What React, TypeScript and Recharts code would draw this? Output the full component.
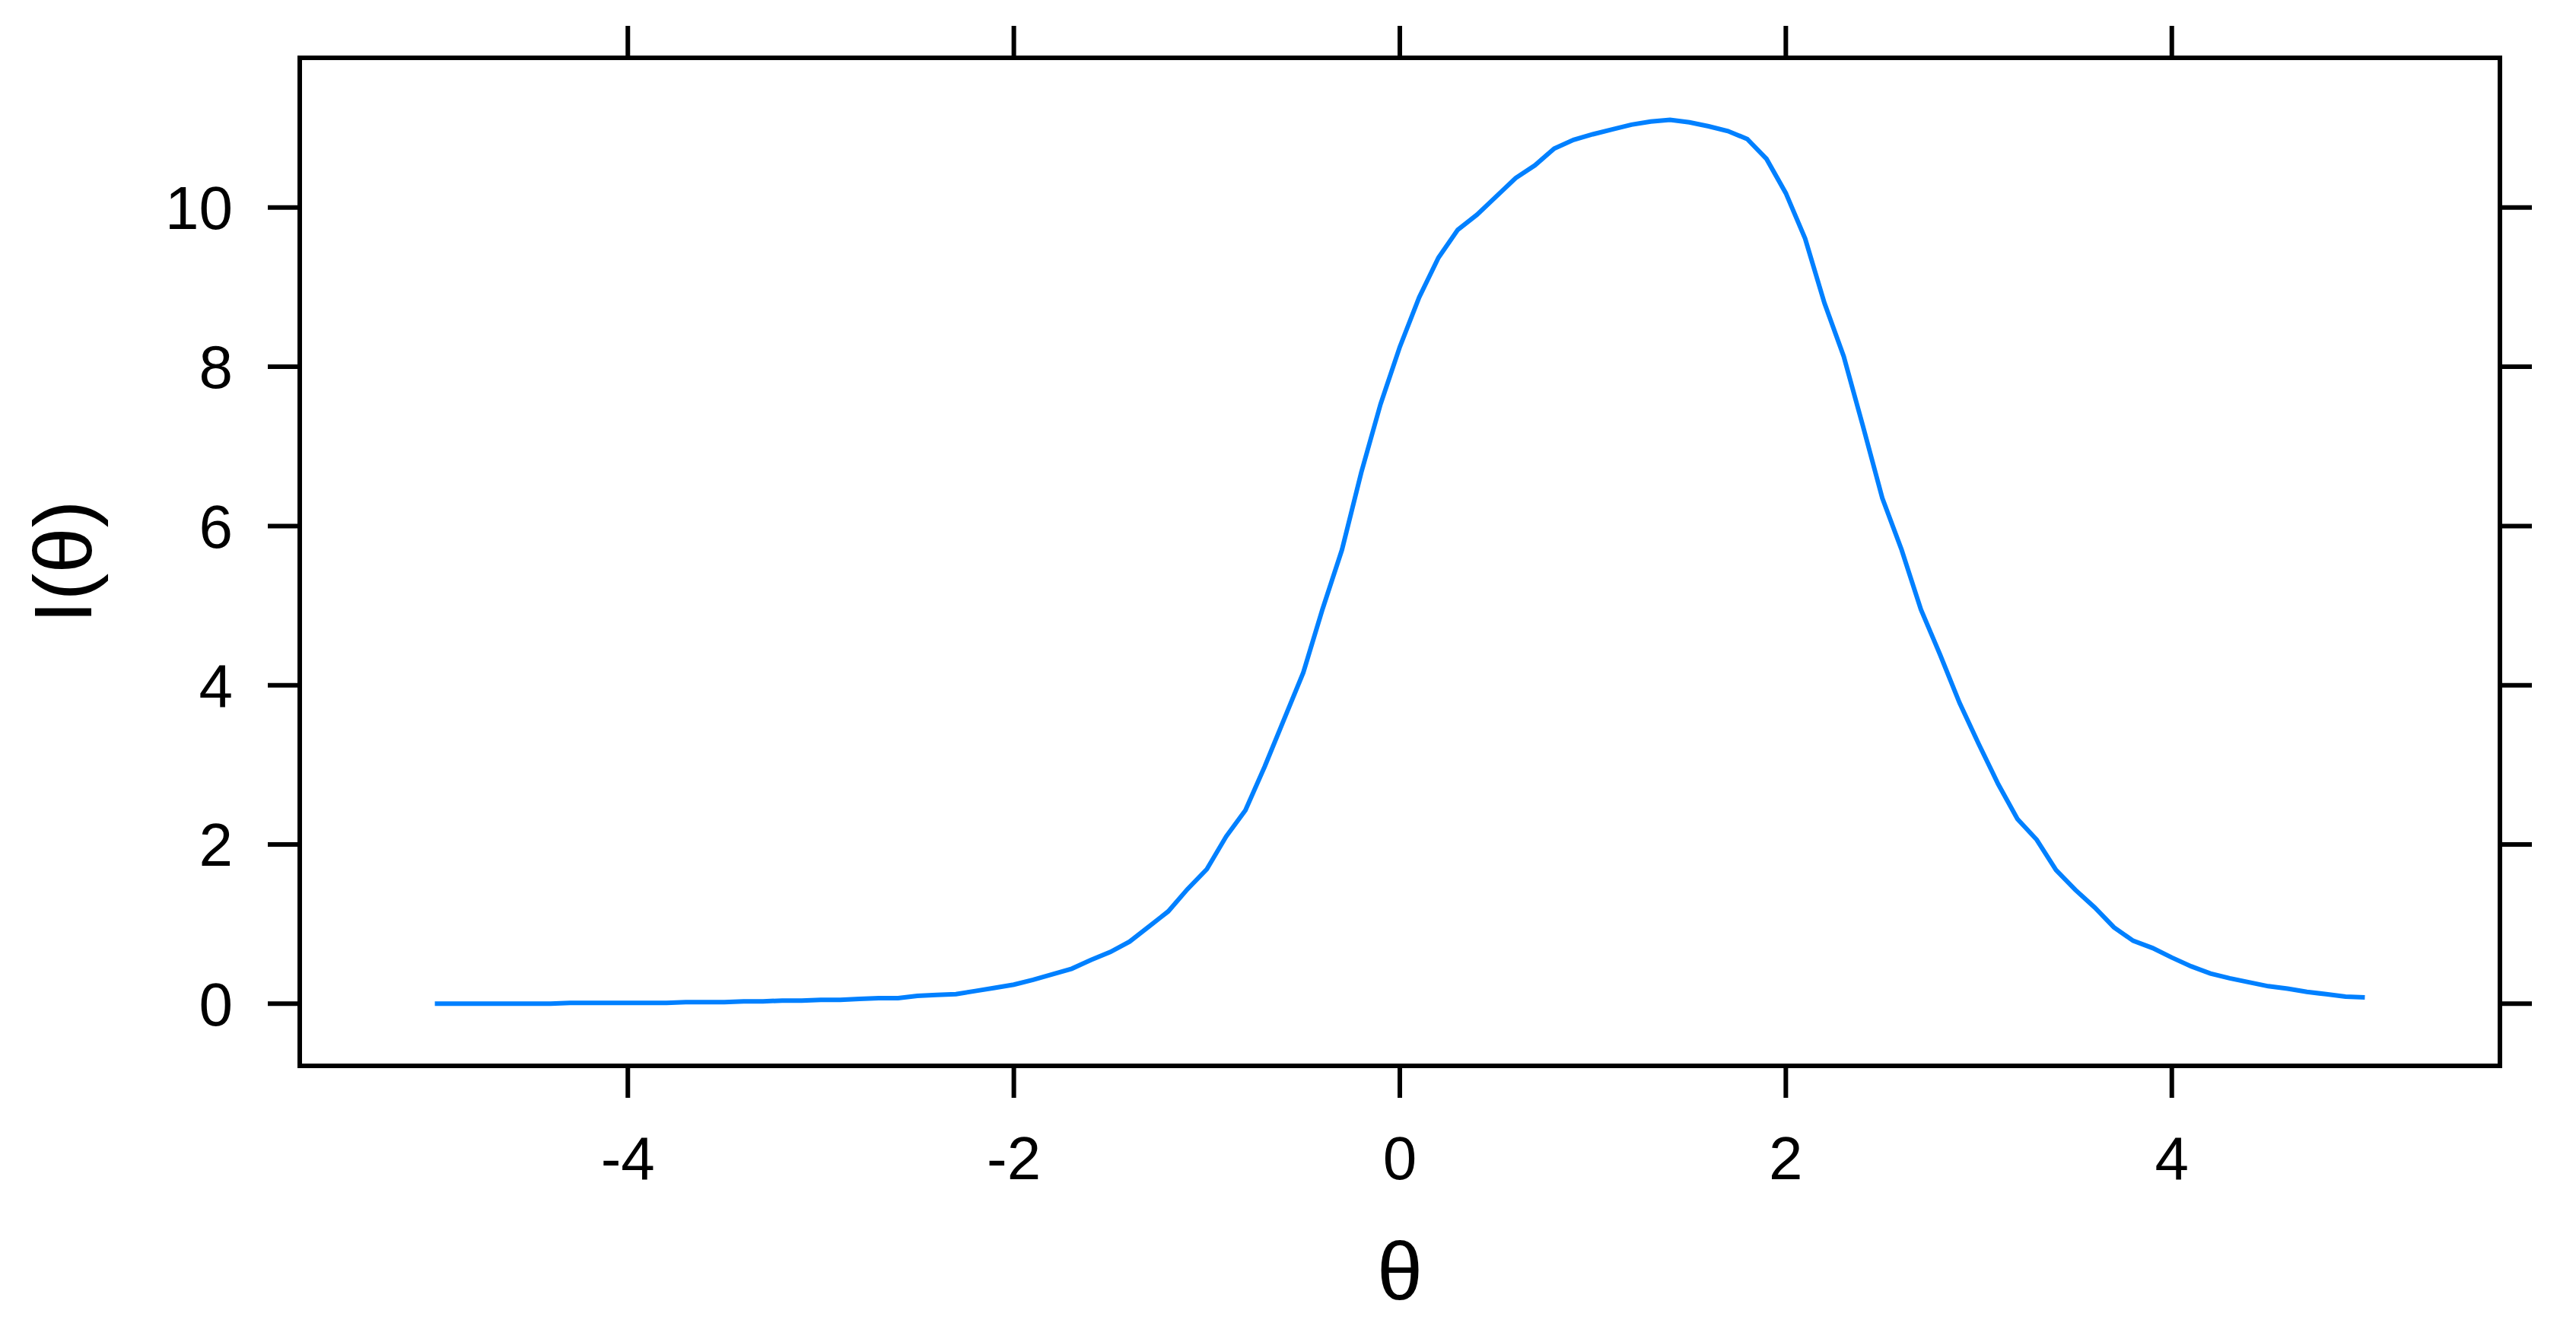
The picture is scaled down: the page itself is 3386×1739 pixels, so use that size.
import { LineChart, Line, XAxis, YAxis, Label } from 'recharts';

// test information curve I(theta) at steps of 0.1
const theta = [
  -5, -4.9, -4.8, -4.7, -4.6, -4.5, -4.4, -4.3, -4.2, -4.1,
  -4, -3.9, -3.8, -3.7, -3.6, -3.5, -3.4, -3.3, -3.2, -3.1,
  -3, -2.9, -2.8, -2.7, -2.6, -2.5, -2.4, -2.3, -2.2, -2.1,
  -2, -1.9, -1.8, -1.7, -1.6, -1.5, -1.4, -1.3, -1.2, -1.1,
  -1, -0.9, -0.8, -0.7, -0.6, -0.5, -0.4, -0.3, -0.2, -0.1,
  0, 0.1, 0.2, 0.3, 0.4, 0.5, 0.6, 0.7, 0.8, 0.9,
  1, 1.1, 1.2, 1.3, 1.4, 1.5, 1.6, 1.7, 1.8, 1.9,
  2, 2.1, 2.2, 2.3, 2.4, 2.5, 2.6, 2.7, 2.8, 2.9,
  3, 3.1, 3.2, 3.3, 3.4, 3.5, 3.6, 3.7, 3.8, 3.9,
  4, 4.1, 4.2, 4.3, 4.4, 4.5, 4.6, 4.7, 4.8, 4.9,
  5,
];

const information = [
  0.0, 0.0, 0.0, 0.0, 0.0, 0.0, 0.0, 0.01, 0.01, 0.01,
  0.01, 0.01, 0.01, 0.02, 0.02, 0.02, 0.03, 0.03, 0.04, 0.04,
  0.05, 0.05, 0.06, 0.07, 0.07, 0.1, 0.11, 0.12, 0.16, 0.2,
  0.24, 0.3, 0.37, 0.44, 0.55, 0.65, 0.78, 0.97, 1.16, 1.44,
  1.69, 2.1, 2.43, 2.98, 3.57, 4.16, 4.96, 5.7, 6.67, 7.53,
  8.25, 8.87, 9.37, 9.72, 9.91, 10.14, 10.37, 10.53, 10.74, 10.85,
  10.92, 10.98, 11.04, 11.08, 11.1, 11.07, 11.02, 10.96, 10.86, 10.61,
  10.18, 9.61, 8.8, 8.13, 7.25, 6.35, 5.7, 4.95, 4.38, 3.78,
  3.26, 2.76, 2.32, 2.06, 1.68, 1.43, 1.21, 0.96, 0.79, 0.7,
  0.58, 0.47, 0.38, 0.32, 0.27, 0.22, 0.19, 0.15, 0.12, 0.09,
  0.08,
];

const xTicks = [-4, -2, 0, 2, 4];
const yTicks = [0, 2, 4, 6, 8, 10];

const FONT = '"Liberation Sans", Arial, sans-serif';
const BORDER = { stroke: '#000', strokeWidth: 6, strokeLinecap: 'square' as const };
const TICK_LINE = { stroke: '#000', strokeWidth: 6 };
const TICK_TEXT = { fill: '#000', fontSize: 80, fontFamily: FONT };
const noText = () => '';

const data = theta.map((t, i) => ({ theta: t, info: information[i] }));

function XTitle(props: any) {
  const { x, y, width } = props.viewBox;
  return (
    <text x={x + width / 2} y={y + 307} textAnchor="middle" fontSize={108} fontFamily={FONT} fill="#000">
      θ
    </text>
  );
}

function YTitle(props: any) {
  const { x, y, height } = props.viewBox;
  const cx = x + 120;
  const cy = y + height / 2;
  return (
    <text x={cx} y={cy} textAnchor="middle" fontSize={108} fontFamily={FONT} fill="#000" transform={`rotate(-90 ${cx} ${cy})`}>
      I(θ)
    </text>
  );
}

export default function App() {
  return (
    <div style={{ position: 'absolute', left: 0, top: 0, width: 3386, height: 1739, background: '#fff' }}>
      <LineChart width={3386} height={1739} data={data} margin={{ top: 0, right: 0, bottom: 0, left: 0 }}>
        <XAxis
          xAxisId="bottom"
          dataKey="theta"
          type="number"
          domain={[-5.7, 5.7]}
          ticks={xTicks}
          allowDataOverflow
          height={338}
          tickSize={42}
          tickMargin={50}
          axisLine={BORDER}
          tickLine={TICK_LINE}
          tick={TICK_TEXT}
        >
          <Label content={XTitle} />
        </XAxis>
        <XAxis
          xAxisId="top"
          orientation="top"
          dataKey="theta"
          type="number"
          domain={[-5.7, 5.7]}
          ticks={xTicks}
          allowDataOverflow
          height={76}
          tickSize={42}
          axisLine={BORDER}
          tickLine={TICK_LINE}
          tickFormatter={noText}
        />
        <YAxis
          yAxisId="left"
          type="number"
          domain={[-0.78, 11.88]}
          ticks={yTicks}
          allowDataOverflow
          width={394}
          tickSize={42}
          tickMargin={46}
          axisLine={BORDER}
          tickLine={TICK_LINE}
          tick={TICK_TEXT}
        >
          <Label content={YTitle} />
        </YAxis>
        <YAxis
          yAxisId="right"
          orientation="right"
          type="number"
          domain={[-0.78, 11.88]}
          ticks={yTicks}
          allowDataOverflow
          width={100}
          tickSize={42}
          axisLine={BORDER}
          tickLine={TICK_LINE}
          tickFormatter={noText}
        />
        <Line
          xAxisId="bottom"
          yAxisId="left"
          type="linear"
          dataKey="info"
          stroke="#0080ff"
          strokeWidth={6}
          dot={false}
          isAnimationActive={false}
        />
      </LineChart>
    </div>
  );
}
